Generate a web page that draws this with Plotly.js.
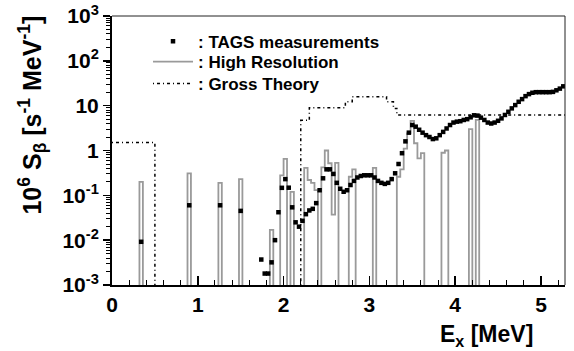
<!DOCTYPE html>
<html><head><meta charset="utf-8">
<script src="https://cdn.plot.ly/plotly-3.0.1.min.js"></script>
<style>html,body{margin:0;padding:0;background:#fff;}</style>
</head><body><div id="chart" style="width:574px;height:351px;"></div>
<script>
// TAGS measurements (bin centres, MeV) and values
const tagsX = [0.34,0.90,1.26,1.50,
  1.74,1.78,1.82,1.86,1.90,1.94,1.98,2.02,2.06,2.10,2.14,2.18,2.22,2.26,2.30,2.34,2.38,2.42,2.46,2.50,
  2.54,2.58,2.62,2.66,2.70,2.74,2.78,2.82,2.86,2.90,2.94,2.98,3.02,3.06,3.10,3.14,3.18,3.22,3.26,3.30,
  3.34,3.38,3.42,3.46,3.50,3.54,3.58,3.62,3.66,3.70,3.74,3.78,3.82,3.86,3.90,3.94,3.98,4.02,4.06,4.10,
  4.14,4.18,4.22,4.26,4.30,4.34,4.38,4.42,4.46,4.50,4.54,4.58,4.62,4.66,4.70,4.74,4.78,4.82,4.86,4.90,
  4.94,4.98,5.02,5.06,5.10,5.14,5.18,5.22,5.26];
const tagsY = [0.0092,0.060,0.060,0.045,
  0.0037,0.0018,0.0018,0.0032,0.010,0.042,0.147,0.23,0.148,0.054,0.025,0.020,0.027,0.038,0.046,0.050,0.067,0.13,0.24,0.38,
  0.38,0.30,0.19,0.14,0.12,0.13,0.17,0.21,0.25,0.27,0.28,0.28,0.28,0.25,0.21,0.19,0.18,0.19,0.23,0.31,
  0.50,0.87,1.6,2.5,3.7,3.4,2.9,2.5,2.2,2.0,1.8,1.87,2.2,2.6,3.1,3.7,4.2,4.4,4.5,4.8,
  5.0,5.5,6.1,6.0,5.4,4.8,4.2,4.0,4.2,4.6,5.2,6.2,7.3,8.7,10.3,12.2,14,16.3,18.1,19.4,
  20,20,20,20,20,20.3,22,24,27];

// High Resolution: non-empty bins (left edge, MeV) and values; bin width 0.04 MeV
const hrBinWidth = 0.04;
const hrLeft = [0.32,0.88,1.24,1.48,1.84,1.96,2.00,2.08,2.24,2.28,2.32,2.36,2.44,2.48,2.52,2.56,2.60,
  2.76,2.80,3.04,3.32,3.36,3.40,3.44,3.48,3.52,3.56,3.60,3.84,3.88,4.16,4.24];
const hrVal = [0.20,0.31,0.19,0.23,0.017,0.28,0.65,0.12,0.41,0.22,0.19,0.13,0.42,1.0,0.52,0.037,0.53,
  0.26,0.38,0.41,0.26,0.38,1.1,2.4,4.6,1.45,0.67,0.87,0.89,1.0,3.0,4.8];

// Gross Theory: step edges (MeV) and values (0 = empty)
const gtX = [0, 0.50, 2.20, 2.30, 2.72, 2.80, 3.20, 3.28, 3.32, 5.28];
const gtY = [1.5, 0, 4.7, 9.0, 12.2, 15.8, 12.2, 8.7, 6.2, 6.2];

const legendNames = [': TAGS measurements', ': High Resolution', ': Gross Theory'];
const yTickVals = [1e-3,1e-2,1e-1,1,10,100,1000];
const yTickText = ['10<sup>-3</sup>','10<sup>-2</sup>','10<sup>-1</sup>','1','10','10<sup>2</sup>','10<sup>3</sup>'];

const FLOOR = 1e-6;
// build histogram outline
const hx = [], hy = [];
let prevRight = null;
for (let i = 0; i < hrLeft.length; i++) {
  const lo = hrLeft[i], hi = +(lo + hrBinWidth).toFixed(4);
  if (prevRight === null || Math.abs(lo - prevRight) > 1e-6) {
    if (prevRight !== null) { hx.push(prevRight); hy.push(FLOOR); }
    hx.push(lo); hy.push(FLOOR);
  }
  hx.push(lo); hy.push(hrVal[i]);
  prevRight = hi;
}
hx.push(prevRight); hy.push(FLOOR);

const gY = gtY.map(v => v > 0 ? v : FLOOR);

const traces = [
  {x: hx, y: hy, type:'scatter', mode:'lines', line:{shape:'hv', color:'#9a9a9a', width:1.8},
   name: legendNames[1], legend:'legend2', hoverinfo:'skip'},
  {x: gtX, y: gY, type:'scatter', mode:'lines', line:{shape:'hv', color:'black', width:1.5, dash:'1px,3px,3px,3px'},
   name: legendNames[2], legend:'legend3', hoverinfo:'skip'},
  {x: tagsX, y: tagsY, type:'scatter', mode:'markers', marker:{symbol:'square', size:4.5, color:'black'},
   name: legendNames[0], legend:'legend', hoverinfo:'skip'}
];

const minorY = [];
for (let e = -3; e < 3; e++) for (let m = 2; m <= 9; m++) minorY.push(m * Math.pow(10, e));

const legendBase = {xanchor:'left', yanchor:'middle', bgcolor:'rgba(0,0,0,0)', borderwidth:0,
  font:{size:17, weight:'bold', color:'black', family:'Liberation Sans, Arial, sans-serif'}, itemwidth:40};

const layout = {
  width:574, height:351,
  margin:{l:112, r:9, t:16, b:66, pad:0},
  paper_bgcolor:'white', plot_bgcolor:'white',
  font:{family:'Liberation Sans, Arial, sans-serif', color:'black'},
  showlegend:true,
  legend: Object.assign({x:0.0795, y:0.9045}, legendBase),
  legend2: Object.assign({x:0.0795, y:0.829}, legendBase),
  legend3: Object.assign({x:0.0795, y:0.747}, legendBase),
  xaxis:{range:[0,5.28], tickmode:'linear', tick0:0, dtick:1, ticks:'inside', ticklen:9, tickwidth:1.5, tickcolor:'black',
    minor:{tickmode:'linear', tick0:0, dtick:0.2, ticks:'inside', ticklen:5, tickwidth:1, tickcolor:'black', showgrid:false},
    showline:true, linewidth:2, linecolor:'black', showgrid:false, zeroline:false,
    tickfont:{size:21, weight:'bold', color:'black'}},
  yaxis:{type:'log', range:[-3,3], tickmode:'array', tickvals:yTickVals, ticktext:yTickText,
    ticks:'outside', ticklen:7, tickwidth:1.5, tickcolor:'black',
    minor:{tickmode:'array', tickvals:minorY, ticks:'outside', ticklen:4, tickwidth:1, tickcolor:'black', showgrid:false},
    showline:true, linewidth:2, linecolor:'black', showgrid:false, zeroline:false,
    tickfont:{size:21, weight:'bold', color:'black'}},
  shapes:[
    {type:'line', xref:'paper', yref:'paper', x0:0, x1:1, y0:1, y1:1, line:{color:'#222', width:1}},
    {type:'line', xref:'paper', yref:'paper', x0:1, x1:1, y0:0, y1:1, line:{color:'#222', width:1}}
  ],
  annotations:[
    {xref:'paper', yref:'paper', x:0.9338, y:-0.186, xanchor:'right', yanchor:'middle', showarrow:false,
     text:'E<sub>x</sub> [MeV]', font:{size:23, weight:'bold', color:'black'}},
    {xref:'paper', yref:'paper', x:-0.1766, y:0.63, xanchor:'center', yanchor:'middle', showarrow:false, textangle:-90,
     text:'10<sup>6</sup> S<sub>β</sub> [s<sup>-1</sup> MeV<sup>-1</sup>]', font:{size:25, weight:'bold', color:'black'}}
  ]
};

Plotly.newPlot('chart', traces, layout, {displayModeBar:false, staticPlot:true});
</script>
</body></html>
